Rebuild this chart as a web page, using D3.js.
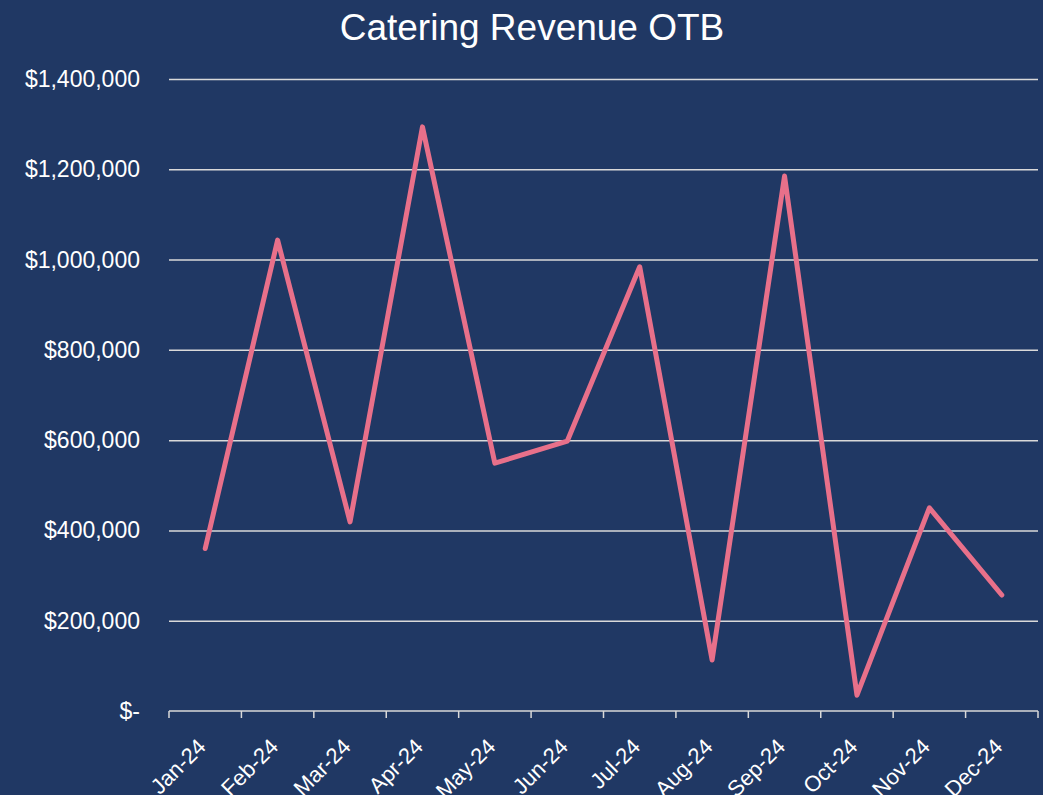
<!DOCTYPE html>
<meta charset="utf-8">
<head>
  <style>
    html, body { margin: 0; padding: 0; background: #203864; }
    svg text { font-family: "Liberation Sans", Arial, sans-serif; fill: #fff; }
    .grid line { stroke: #d9d9d9; stroke-width: 1.5px; }
    .grid path { display: none; }
  </style>
</head>
<body>
  <script src="https://d3js.org/d3.v7.min.js"></script>
  <div id="chart"></div>
  <script>
    var months = ["Jan-24", "Feb-24", "Mar-24", "Apr-24", "May-24", "Jun-24",
                  "Jul-24", "Aug-24", "Sep-24", "Oct-24", "Nov-24", "Dec-24"];
    var revenue = [360000, 1043000, 419000, 1294000, 549000, 598000,
                   984000, 113000, 1185000, 35000, 450000, 257000];
    var yTicks = [0, 200000, 400000, 600000, 800000, 1000000, 1200000, 1400000];

    var width = 1043, height = 795;
    var margin = { top: 79, right: 5, bottom: 84, left: 169 };

    var svg = d3.select('#chart').append('svg')
      .attr('width', width)
      .attr('height', height)
      .style('display', 'block');

    svg.append('rect').attr('width', width).attr('height', height).attr('fill', '#203864');

    var x = d3.scaleBand()
      .domain(months)
      .range([margin.left, width - margin.right]);

    var y = d3.scaleLinear()
      .domain([0, 1400000])
      .range([height - margin.bottom, margin.top]);

    var fmt = d3.format(',');

    // gridlines
    svg.append('g')
      .attr('class', 'grid')
      .attr('transform', 'translate(' + margin.left + ',0)')
      .call(d3.axisLeft(y).tickValues(yTicks.slice(1))
        .tickSize(-(width - margin.right - margin.left)).tickFormat(''));

    // y labels
    svg.append('g')
      .selectAll('text')
      .data(yTicks)
      .enter().append('text')
      .attr('x', 140)
      .attr('y', d => y(d))
      .attr('dy', '0.35em')
      .attr('text-anchor', 'end')
      .style('font-size', '23px')
      .text(d => d === 0 ? '$-' : '$' + fmt(d));

    // x axis
    var xAxis = svg.append('g')
      .attr('transform', 'translate(0,' + y(0) + ')');
    xAxis.append('line')
      .attr('x1', margin.left).attr('x2', width - margin.right)
      .attr('stroke', '#d9d9d9').attr('stroke-width', 1.5);
    var edges = months.map(m => x(m)).concat([width - margin.right]);
    xAxis.selectAll('line.tk')
      .data(edges)
      .enter().append('line')
      .attr('class', 'tk')
      .attr('x1', d => d).attr('x2', d => d)
      .attr('y1', 0).attr('y2', 7)
      .attr('stroke', '#d9d9d9').attr('stroke-width', 1.5);
    xAxis.selectAll('text')
      .data(months)
      .enter().append('text')
      .attr('transform', d => 'translate(' + (x(d) + x.bandwidth() / 2 + 2) + ',37) rotate(-45)')
      .attr('text-anchor', 'end')
      .style('font-size', '22px')
      .text(d => d);

    // line
    var line = d3.line()
      .x((d, i) => x(months[i]) + x.bandwidth() / 2)
      .y(d => y(d));

    svg.append('path')
      .datum(revenue)
      .attr('d', line)
      .attr('fill', 'none')
      .attr('stroke', '#e8708a')
      .attr('stroke-width', 5)
      .attr('stroke-linecap', 'round')
      .attr('stroke-linejoin', 'round');

    // title
    svg.append('text')
      .attr('x', 532)
      .attr('y', 40)
      .attr('text-anchor', 'middle')
      .style('font-size', '37px')
      .text('Catering Revenue OTB');
  </script>
</body>
